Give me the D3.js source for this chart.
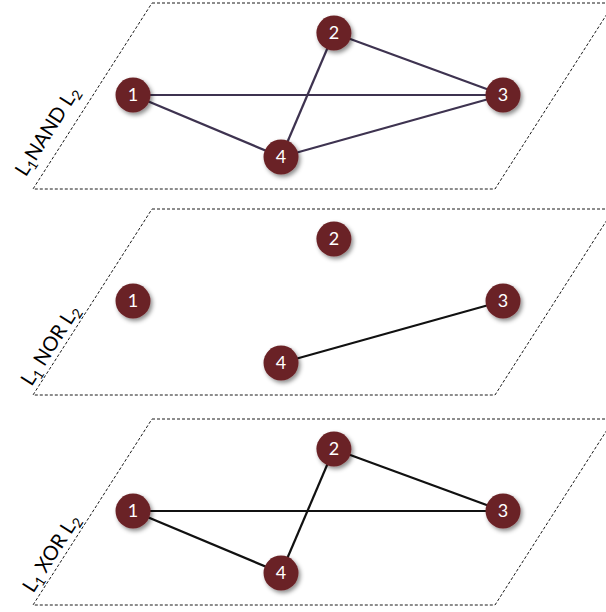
<!DOCTYPE html>
<html><head><meta charset="utf-8">
<script src="https://cdn.jsdelivr.net/npm/d3@7/dist/d3.min.js"></script>
<style>html,body{margin:0;padding:0;background:#fff;}svg{display:block;}</style>
</head><body>
<svg id="c" width="606" height="612"></svg>
<script>
// ---- data ----
const panelOps = ["NAND", "NOR", "XOR"];
const nodeIds = [1, 2, 3, 4];
const nodeX = [0, 0.543, 1, 0.40];   // relative horizontal position
const nodeY = [0.5, 0, 0.5, 1];      // relative vertical position
const edgesNAND = [[1,3],[1,4],[2,4],[2,3],[3,4]];
const edgesNOR  = [[3,4]];
const edgesXOR  = [[1,3],[1,4],[2,4],[2,3]];
const panelEdges = [edgesNAND, edgesNOR, edgesXOR];

// ---- layout ----
const W = 606, H = 612;
const panelTop = [3, 209, 419];
const panelH = 186, panelBL = 33, panelW = 462, panelShift = 119;
const labelPos = [[47,131],[50,345],[51,553]];
const edgeColors = ["#3e3350", "#111111", "#111111"];
const nodeFill = "#6b2226";

const svg = d3.select("#c");
const defs = svg.append("defs");
const f = defs.append("filter").attr("id","sh").attr("x","-50%").attr("y","-50%").attr("width","200%").attr("height","200%");
f.append("feDropShadow").attr("dx",2).attr("dy",2.5).attr("stdDeviation",2).attr("flood-color","#000").attr("flood-opacity",0.45);

const xs = d3.scaleLinear().domain([0,1]).range([133,503]);
const ysLocal = d3.scaleLinear().domain([0,1]).range([30,154]);

panelOps.forEach((op, i) => {
  const top = panelTop[i], bot = top + panelH;
  const g = svg.append("g");
  const pts = [[panelBL+panelShift, top],[panelBL+panelShift+panelW, top],[panelBL+panelW, bot],[panelBL, bot]];
  g.append("path")
    .attr("d", d3.line()(pts) + "Z")
    .attr("fill","none").attr("stroke","#1a1a1a").attr("stroke-width",1)
    .attr("stroke-dasharray","3,2");

  const ys = v => top + ysLocal(v);
  g.selectAll("line.e").data(panelEdges[i]).join("line")
    .attr("class","e")
    .attr("x1", d => xs(nodeX[d[0]-1])).attr("y1", d => ys(nodeY[d[0]-1]))
    .attr("x2", d => xs(nodeX[d[1]-1])).attr("y2", d => ys(nodeY[d[1]-1]))
    .attr("stroke", edgeColors[i]).attr("stroke-width", 2.2);

  const ng = g.selectAll("g.n").data(nodeIds).join("g").attr("class","n")
    .attr("transform", (d,k) => `translate(${xs(nodeX[k])},${ys(nodeY[k])})`);
  ng.append("circle").attr("r",17.5).attr("fill",nodeFill).attr("filter","url(#sh)");
  ng.append("text").text(d => d)
    .attr("text-anchor","middle").attr("dy","0.36em")
    .attr("fill","#fff").attr("font-family","Lato, 'Open Sans', sans-serif").attr("font-size",18);

  const lp = labelPos[i];
  const t = svg.append("text")
    .attr("transform", `translate(${lp[0]},${lp[1]}) rotate(-57.5)`)
    .attr("text-anchor","middle").attr("dy","0.35em")
    .attr("font-family","Lato, 'Open Sans', sans-serif").attr("font-size",20).attr("fill","#000");
  t.append("tspan").text("L");
  t.append("tspan").text("1").attr("font-size",14).attr("dy",4);
  t.append("tspan").text(i === 0 ? op + " L" : " " + op + " L").attr("dy",-4);
  t.append("tspan").text("2").attr("font-size",14).attr("dy",4);
});
</script>
</body></html>
